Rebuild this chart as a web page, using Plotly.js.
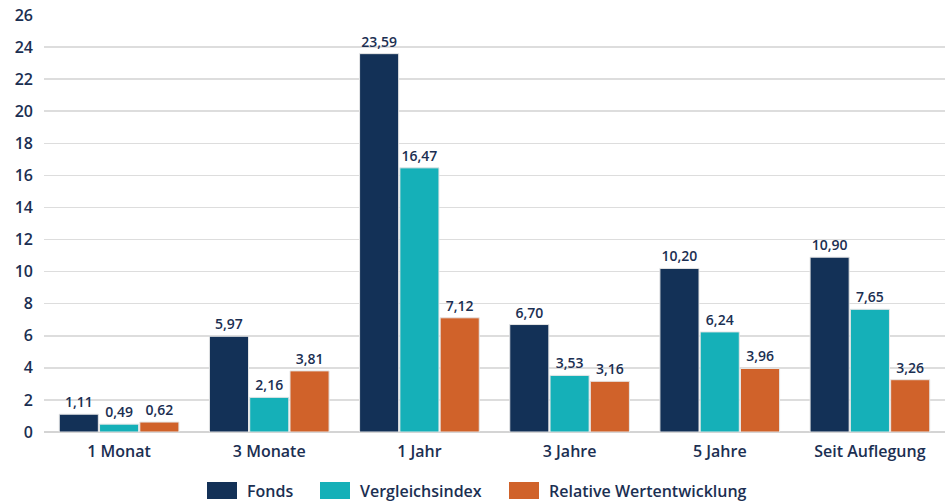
<!DOCTYPE html>
<html><head><meta charset="utf-8">
<script src="https://cdn.plot.ly/plotly-3.0.1.min.js"></script>
<style>html,body{margin:0;padding:0;background:#fff}</style>
</head><body>
<div id="chart" style="width:951px;height:501px"></div>
<script>
const categories = ["1 Monat", "3 Monate", "1 Jahr", "3 Jahre", "5 Jahre", "Seit Auflegung"];
const fonds = [1.11, 5.97, 23.59, 6.70, 10.20, 10.90];
const vergleichsindex = [0.49, 2.16, 16.47, 3.53, 6.24, 7.65];
const relative = [0.62, 3.81, 7.12, 3.16, 3.96, 3.26];
const yTicks = [0, 2, 4, 6, 8, 10, 12, 14, 16, 18, 20, 22, 24, 26];
const seriesNames = ["Fonds", "Vergleichsindex", "Relative Wertentwicklung"];
const seriesColors = ["#133157", "#15b0b8", "#d0622a"];

const txtColor = "#1b2f52";
const font = "Open Sans, sans-serif";
const FW = 600;
const W = 951, H = 501;
const M = {l: 44, r: 6, t: 15, b: 69};
const pw = W - M.l - M.r, ph = H - M.t - M.b;
const px = v => (v - M.l) / pw;
const py = v => (H - M.b - v) / ph;

function trace(name, y, color) {
  return {
    type: "bar", name: name, x: categories, y: y,
    marker: {color: color, line: {color: "#e6e6e6", width: 1}},
    texttemplate: "%{y:.2f}", textposition: "outside",
    textfont: {family: font, size: 14, color: txtColor, weight: FW},
    cliponaxis: false, hoverinfo: "none", showlegend: false
  };
}
const data = [
  trace(seriesNames[0], fonds, seriesColors[0]),
  trace(seriesNames[1], vergleichsindex, seriesColors[1]),
  trace(seriesNames[2], relative, seriesColors[2])
];

// custom legend (wide swatches)
const legendBoxes = [[207, 237], [320, 350], [509, 539]];
const shapes = legendBoxes.map((b, i) => ({
  type: "rect", xref: "paper", yref: "paper",
  x0: px(b[0]), x1: px(b[1]), y0: py(482), y1: py(499),
  fillcolor: seriesColors[i], line: {width: 0}
}));
const annotations = legendBoxes.map((b, i) => ({
  xref: "paper", yref: "paper", x: px(b[1] + 8), y: py(490.5),
  xanchor: "left", yanchor: "middle", showarrow: false, text: seriesNames[i],
  font: {family: font, size: 16, color: txtColor, weight: FW}
}));

const layout = {
  width: W, height: H,
  margin: {l: M.l, r: M.r, t: M.t, b: M.b, autoexpand: false},
  separators: ",.",
  barmode: "group", bargap: 0.195, bargroupgap: 0.03,
  font: {family: font, color: txtColor, weight: FW},
  paper_bgcolor: "#fff", plot_bgcolor: "#fff",
  showlegend: false,
  xaxis: {tickfont: {size: 16, color: txtColor, weight: FW}, ticks: "", showline: false,
          ticklabelstandoff: 8, fixedrange: true},
  yaxis: {range: [0, 26], tickvals: yTicks, ticktext: yTicks.map(String),
          tickfont: {size: 16, color: txtColor, weight: FW}, gridcolor: "#dddddd", gridwidth: 1.5,
          zeroline: true, zerolinecolor: "#d4d4d4", zerolinewidth: 2, ticks: "", ticklabelstandoff: 10,
          fixedrange: true},
  shapes: shapes,
  annotations: annotations
};
Plotly.newPlot("chart", data, layout, {displayModeBar: false, staticPlot: true});
</script>
</body></html>
